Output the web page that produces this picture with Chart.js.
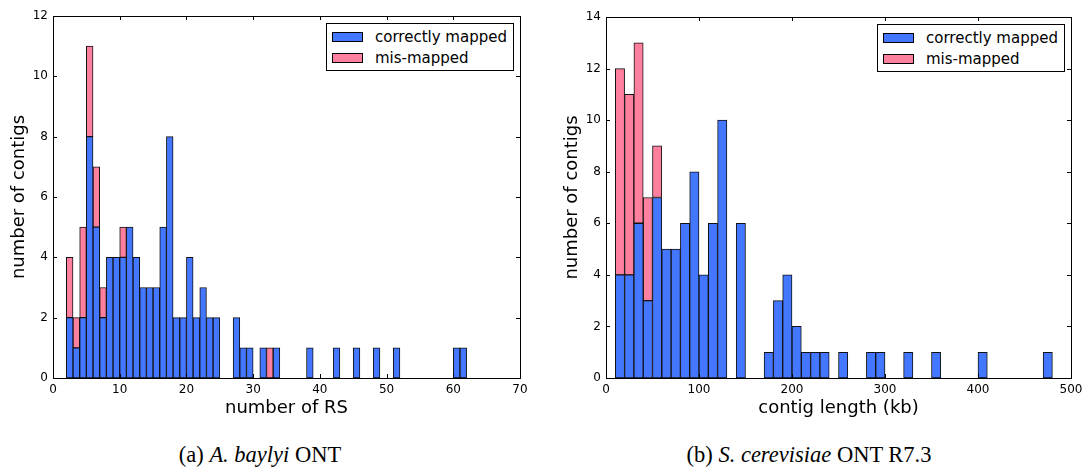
<!DOCTYPE html>
<html>
<head>
<meta charset="utf-8">
<script src="https://cdn.jsdelivr.net/npm/chart.js@4"></script>
<style>
  body { margin: 0; background: #fff; width: 1088px; height: 467px; position: relative; overflow: hidden; font-family: "DejaVu Sans", sans-serif; }
  .plot { position: absolute; top: 0; }
  .legend { position: absolute; border: 1px solid #000; background: #fff; box-sizing: border-box; }
  .legend .row { position: absolute; left: 0; right: 0; height: 20px; }
  .legend .sw { position: absolute; left: 5px; top: 5px; width: 31px; height: 10px; border: 1px solid #000; box-sizing: border-box; }
  .legend .lab { position: absolute; left: 48px; top: 0; font-size: 15px; line-height: 20px; color: #000; white-space: nowrap; }
  .caption { position: absolute; top: 442px; font-family: "Liberation Serif", "Times New Roman", serif; font-size: 22.5px; color: #000; white-space: nowrap; transform: translateX(-50%); }
</style>
</head>
<body>
<canvas id="chartA" class="plot" style="left:0px" width="540" height="420"></canvas>
<canvas id="chartB" class="plot" style="left:544px" width="544" height="420"></canvas>

<div class="legend" style="left:326px; top:23px; width:188px; height:48px;">
  <div class="row" style="top:3px"><div class="sw" style="background:rgb(68,119,255)"></div><div class="lab">correctly mapped</div></div>
  <div class="row" style="top:24px"><div class="sw" style="background:rgb(255,128,158)"></div><div class="lab">mis-mapped</div></div>
</div>
<div class="legend" style="left:877px; top:24px; width:188px; height:48px;">
  <div class="row" style="top:3px"><div class="sw" style="background:rgb(68,119,255)"></div><div class="lab">correctly mapped</div></div>
  <div class="row" style="top:24px"><div class="sw" style="background:rgb(255,128,158)"></div><div class="lab">mis-mapped</div></div>
</div>

<div class="caption" style="left:260px">(a) <i>A. baylyi</i> ONT</div>
<div class="caption" style="left:809px">(b) <i>S. cerevisiae</i> ONT R7.3</div>

<script>
// (a) A. baylyi ONT: histogram of number of RS, bin width 1
const rsBinStart = [2, 3, 4, 5, 6, 7, 8, 9, 10, 11, 12, 13, 14, 15, 16, 17, 18, 19, 20, 21, 22, 23, 24, 27, 28, 29, 31, 32, 33, 38, 42, 45, 48, 51, 60, 61];
const rsCorrect  = [2, 1, 2, 8, 5, 2, 4, 4, 4, 5, 4, 3, 3, 3, 5, 8, 2, 2, 4, 2, 3, 2, 2, 2, 1, 1, 1, 0, 1, 1, 1, 1, 1, 1, 1, 1];
const rsMis      = [2, 1, 3, 3, 2, 1, 0, 0, 1, 0, 0, 0, 0, 0, 0, 0, 0, 0, 0, 0, 0, 0, 0, 0, 0, 0, 0, 1, 0, 0, 0, 0, 0, 0, 0, 0];
const rsBinWidth = 1;

// (b) S. cerevisiae ONT R7.3: histogram of contig length (kb), bin width 10
const lenBinStart = [10, 20, 30, 40, 50, 60, 70, 80, 90, 100, 110, 120, 140, 170, 180, 190, 200, 210, 220, 230, 250, 280, 290, 320, 350, 400, 470];
const lenCorrect  = [4, 4, 6, 3, 7, 5, 5, 6, 8, 4, 6, 10, 6, 1, 3, 4, 2, 1, 1, 1, 1, 1, 1, 1, 1, 1, 1];
const lenMis      = [8, 7, 7, 4, 2, 0, 0, 0, 0, 0, 0, 0, 0, 0, 0, 0, 0, 0, 0, 0, 0, 0, 0, 0, 0, 0, 0];
const lenBinWidth = 10;

const xTicksA = [0, 10, 20, 30, 40, 50, 60, 70];
const yTicksA = [0, 2, 4, 6, 8, 10, 12];
const xTicksB = [0, 100, 200, 300, 400, 500];
const yTicksB = [0, 2, 4, 6, 8, 10, 12, 14];

const blue = 'rgb(68,119,255)';
const pink = 'rgb(255,128,158)';

Chart.defaults.font.family = '"DejaVu Sans", sans-serif';
Chart.defaults.color = '#000';

// matplotlib style frame with inward ticks on all four sides
const framePlugin = {
    id: 'frame',
    afterDraw(chart) {
        const ctx = chart.ctx;
        const a = chart.chartArea;
        const len = 4;
        ctx.save();
        ctx.strokeStyle = '#000';
        ctx.lineWidth = 1;
        ctx.beginPath();
        chart.scales.x.ticks.forEach(t => {
            const px = Math.round(chart.scales.x.getPixelForValue(t.value)) + 0.5;
            ctx.moveTo(px, a.bottom); ctx.lineTo(px, a.bottom - len);
            ctx.moveTo(px, a.top); ctx.lineTo(px, a.top + len);
        });
        chart.scales.y.ticks.forEach(t => {
            const py = Math.round(chart.scales.y.getPixelForValue(t.value)) + 0.5;
            ctx.moveTo(a.left, py); ctx.lineTo(a.left + len, py);
            ctx.moveTo(a.right, py); ctx.lineTo(a.right - len, py);
        });
        ctx.stroke();
        ctx.strokeRect(Math.round(a.left) + 0.5, Math.round(a.top) + 0.5, Math.round(a.right - a.left), Math.round(a.bottom - a.top));
        ctx.restore();
    }
};

function makeHist(id, starts, correct, mis, width, xTicks, yTicks, xTitle, pad, yAxisWidth) {
    const toPoints = vals => starts.map((s, i) => ({ x: s + width / 2, y: vals[i] }));
    return new Chart(document.getElementById(id), {
        type: 'bar',
        data: {
            datasets: [
                { label: 'correctly mapped', data: toPoints(correct), backgroundColor: blue, borderColor: '#111', borderWidth: 1, borderSkipped: false },
                { label: 'mis-mapped', data: toPoints(mis), backgroundColor: pink, borderColor: '#111', borderWidth: 1, borderSkipped: false }
            ]
        },
        options: {
            responsive: false,
            animation: false,
            barPercentage: 1,
            categoryPercentage: 1,
            layout: { padding: pad },
            plugins: { legend: { display: false }, tooltip: { enabled: false } },
            scales: {
                x: {
                    type: 'linear',
                    stacked: true,
                    offset: false,
                    min: xTicks[0],
                    max: xTicks[xTicks.length - 1],
                    afterBuildTicks: s => { s.ticks = xTicks.map(v => ({ value: v })); },
                    grid: { display: false, drawTicks: false, offset: false },
                    border: { display: false },
                    ticks: { font: { size: 12 }, padding: 5, maxRotation: 0 },
                    title: { display: true, text: xTitle, font: { size: 18 }, padding: { top: 0, bottom: 1 } },
                    afterFit: s => { s.height = 42; }
                },
                y: {
                    stacked: true,
                    min: yTicks[0],
                    max: yTicks[yTicks.length - 1],
                    afterBuildTicks: s => { s.ticks = yTicks.map(v => ({ value: v })); },
                    grid: { display: false, drawTicks: false },
                    border: { display: false },
                    ticks: { font: { size: 12 }, padding: 5 },
                    title: { display: true, text: 'number of contigs', font: { size: 18 }, padding: { top: yAxisWidth - 44, bottom: 0 } },
                    afterFit: s => { s.width = yAxisWidth; }
                }
            }
        },
        plugins: [framePlugin]
    });
}

makeHist('chartA', rsBinStart, rsCorrect, rsMis, rsBinWidth, xTicksA, yTicksA, 'number of RS',
    { top: 16, right: 20, left: 0, bottom: 0 }, 53);
makeHist('chartB', lenBinStart, lenCorrect, lenMis, lenBinWidth, xTicksB, yTicksB, 'contig length (kb)',
    { top: 17, right: 17, left: 0, bottom: 0 }, 62);
</script>
</body>
</html>
